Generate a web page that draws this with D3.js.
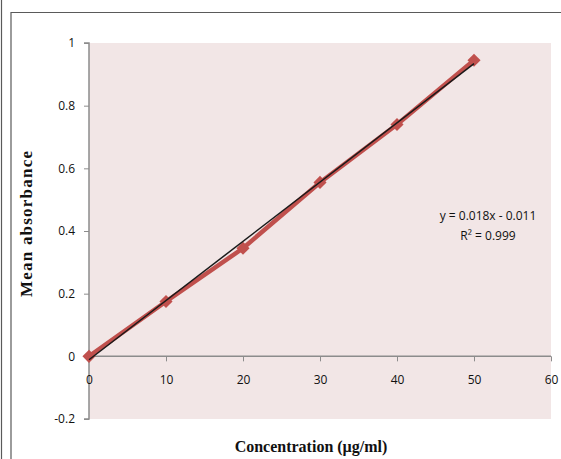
<!DOCTYPE html>
<html>
<head>
<meta charset="utf-8">
<script src="https://cdn.jsdelivr.net/npm/d3@7"></script>
<style>
  body { margin: 0; background: #fff; }
  svg { display: block; }
</style>
</head>
<body>
<div id="chart"></div>
<script>
//data
var concentration = [0, 10, 20, 30, 40, 50];
var absorbance = [0, 0.175, 0.345, 0.555, 0.74, 0.945];
//trendline end points
var trendX = [0, 50],
    trendY = [-0.011, 0.934];
var xTicks = [0, 10, 20, 30, 40, 50, 60];
var yTicks = [-0.2, 0, 0.2, 0.4, 0.6, 0.8, 1];
var yTickLabels = ["-0.2", "0", "0.2", "0.4", "0.6", "0.8", "1"];
var equation = ["y = 0.018x - 0.011", "R² = 0.999"];

var width = 561,
    height = 459;

//plot area box
var plot = {left: 89, top: 43, right: 551, bottom: 419};

var svg = d3.select("#chart").append("svg")
    .attr("width", width)
    .attr("height", height);

//outer frame lines
svg.append("line")
    .attr("x1", 1.5).attr("x2", 1.5)
    .attr("y1", 0).attr("y2", height)
    .attr("stroke", "#5a5a5a").attr("stroke-width", 1.2);
svg.append("path")
    .attr("d", "M11," + height + "V12.5H" + width)
    .attr("fill", "none")
    .attr("stroke", "#5a5a5a").attr("stroke-width", 1.2);

var x = d3.scaleLinear().domain([0, 60]).range([plot.left, plot.right]);
var y = d3.scaleLinear().domain([-0.2, 1]).range([plot.bottom, plot.top]);

//plot background
svg.append("rect")
    .attr("x", plot.left)
    .attr("y", plot.top)
    .attr("width", plot.right - plot.left)
    .attr("height", plot.bottom - plot.top)
    .attr("fill", "#f2e6e6");

var tickFont = "'Open Sans', sans-serif";

//y axis
var yAxis = svg.append("g")
    .attr("transform", "translate(" + plot.left + ",0)")
    .call(d3.axisLeft(y).tickValues(yTicks).tickSize(5).tickPadding(9)
        .tickFormat(function (d, i) { return yTickLabels[i]; }));

//x axis sits at zero
var xAxis = svg.append("g")
    .attr("transform", "translate(0," + y(0) + ")")
    .call(d3.axisBottom(x).tickValues(xTicks).tickSize(5).tickPadding(14));

[xAxis, yAxis].forEach(function (g) {
    g.select(".domain").attr("stroke", "#8c8c8c").attr("stroke-width", 1.5);
    g.selectAll(".tick line").attr("stroke", "#8c8c8c").attr("stroke-width", 1);
    g.selectAll(".tick text")
        .attr("fill", "#111")
        .style("font-family", tickFont)
        .style("font-size", "12px");
});
yAxis.select(".domain").attr("d", "M-5," + plot.bottom + "H0V" + plot.top + "H-5");
xAxis.select(".domain").attr("d", "M" + plot.left + ",0H" + plot.right);

//data line
var line = d3.line()
    .x(function (d, i) { return x(concentration[i]); })
    .y(function (d) { return y(d); });

svg.append("path")
    .datum(absorbance)
    .attr("d", line)
    .attr("fill", "none")
    .attr("stroke", "#c0504d")
    .attr("stroke-width", 4.5)
    .attr("stroke-linejoin", "round");

//diamond markers
svg.append("g")
    .selectAll(".marker")
    .data(absorbance)
    .enter().append("path")
    .attr("class", "marker")
    .attr("d", d3.symbol().type(d3.symbolDiamond2).size(110))
    .attr("transform", function (d, i) {
        return "translate(" + x(concentration[i]) + "," + y(d) + ")";
    })
    .attr("fill", "#c0504d");

//linear trendline
svg.append("line")
    .attr("x1", x(trendX[0])).attr("y1", y(trendY[0]))
    .attr("x2", x(trendX[1])).attr("y2", y(trendY[1]))
    .attr("stroke", "#1a1a1a")
    .attr("stroke-width", 1.5);

//trendline label
svg.append("g")
    .selectAll("text")
    .data(equation)
    .enter().append("text")
    .attr("x", 488)
    .attr("y", function (d, i) { return 220 + i * 20; })
    .attr("text-anchor", "middle")
    .style("font-family", tickFont)
    .style("font-size", "12px")
    .attr("fill", "#111")
    .text(function (d) { return d; });

//axis titles
svg.append("text")
    .attr("transform", "translate(32,224) rotate(-90)")
    .attr("text-anchor", "middle")
    .attr("textLength", 146)
    .attr("lengthAdjust", "spacing")
    .style("font-family", "'Liberation Serif', serif")
    .style("font-weight", "bold")
    .style("font-size", "17px")
    .attr("fill", "#111")
    .text("Mean absorbance");

svg.append("text")
    .attr("x", 311)
    .attr("y", 452)
    .attr("text-anchor", "middle")
    .style("font-family", "'Liberation Serif', serif")
    .style("font-weight", "bold")
    .style("font-size", "16px")
    .attr("fill", "#111")
    .text("Concentration (µg/ml)");
</script>
</body>
</html>
